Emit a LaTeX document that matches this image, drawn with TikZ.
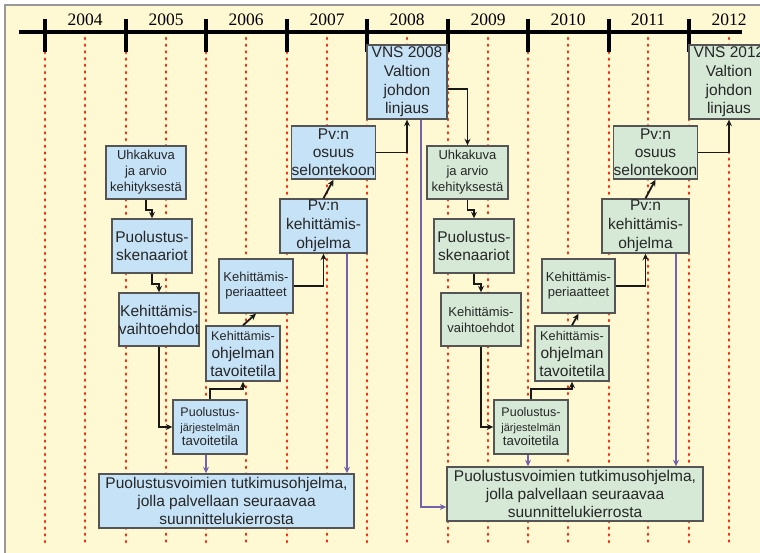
\documentclass[tikz,border=0pt]{standalone}
\usepackage{fontspec}
\setmainfont{Liberation Sans}
\newfontfamily\yearfont{Liberation Serif}
\usetikzlibrary{arrows.meta}

\definecolor{paper}{HTML}{FFF9D3}
\definecolor{boxBlue}{HTML}{C6E2F6}
\definecolor{boxGreen}{HTML}{D6E9D6}
\definecolor{boxLine}{HTML}{555555}
\definecolor{dotRed}{HTML}{F52A0C}
\definecolor{linkPurple}{HTML}{7362AC}

\newcommand{\bigtxt}{\fontsize{15.5}{18}\selectfont}
\newcommand{\smalltxt}{\fontsize{13}{16}\selectfont}

\tikzset{
	planBox/.style={rectangle, draw=boxLine, line width=1.4pt, inner sep=0pt, align=center, text=black!85},
	blueBox/.style={planBox, fill=boxBlue},
	greenBox/.style={planBox, fill=boxGreen},
	flowArrow/.style={->, line width=1.8pt, color=black!90},
	feedArrow/.style={->, line width=1.8pt, color=linkPurple},
	halfYear/.style={color=dotRed, line width=2.6pt, line cap=round, dash pattern=on 1pt off 5.7pt},
	yearTick/.style={line width=3.2pt},
	yearLabel/.style={font=\yearfont\fontsize{17.5}{20}\selectfont, anchor=base},
}

\begin{document}
\begin{tikzpicture}[x=1pt, y=-1pt, >={Stealth[length=6.5pt, width=6pt]}]
		\useasboundingbox (0,0) rectangle (760,553);
		\draw[draw=black!40, line width=1.5pt, fill=paper] (5,5) rectangle (790,590);

		% half year guides
		\draw[halfYear] (45,52) -- (45,545);
		\draw[halfYear] (85,38) -- (85,545);
		\draw[halfYear] (126,52) -- (126,545);
		\draw[halfYear] (166,38) -- (166,545);
		\draw[halfYear] (206,52) -- (206,545);
		\draw[halfYear] (246,38) -- (246,545);
		\draw[halfYear] (287,52) -- (287,545);
		\draw[halfYear] (327,38) -- (327,545);
		\draw[halfYear] (367,52) -- (367,545);
		\draw[halfYear] (407,38) -- (407,545);
		\draw[halfYear] (448,52) -- (448,545);
		\draw[halfYear] (488,38) -- (488,545);
		\draw[halfYear] (528,52) -- (528,545);
		\draw[halfYear] (568,38) -- (568,545);
		\draw[halfYear] (609,52) -- (609,545);
		\draw[halfYear] (648,38) -- (648,545);
		\draw[halfYear] (689,52) -- (689,545);
		\draw[halfYear] (729,38) -- (729,545);

		% time axis
		\draw[yearTick] (19,32) -- (742,32);
		\draw[yearTick] (45,19) -- (45,52);
		\draw[yearTick] (126,19) -- (126,52);
		\draw[yearTick] (206,19) -- (206,52);
		\draw[yearTick] (287,19) -- (287,52);
		\draw[yearTick] (367,19) -- (367,52);
		\draw[yearTick] (448,19) -- (448,52);
		\draw[yearTick] (528,19) -- (528,52);
		\draw[yearTick] (609,19) -- (609,52);
		\draw[yearTick] (689,19) -- (689,52);

		\node[yearLabel](y2004) at (85,26){2004};
		\node[yearLabel](y2005) at (166,26){2005};
		\node[yearLabel](y2006) at (246,26){2006};
		\node[yearLabel](y2007) at (327,26){2007};
		\node[yearLabel](y2008) at (407,26){2008};
		\node[yearLabel](y2009) at (488,26){2009};
		\node[yearLabel](y2010) at (568,26){2010};
		\node[yearLabel](y2011) at (648,26){2011};
		\node[yearLabel](y2012) at (729,26){2012};

		% first round
		\node[blueBox, minimum width=80pt, minimum height=53pt, font=\smalltxt](uhkaOne) at (146,172.5){Uhkakuva\\ja arvio\\kehityksestä};
		\node[blueBox, minimum width=80pt, minimum height=54pt, font=\bigtxt](skenOne) at (152,246){Puolustus-\\skenaariot};
		\node[blueBox, minimum width=80pt, minimum height=53pt, font=\bigtxt](vaihtoOne) at (159,319.5){Kehittämis-\\vaihtoehdot};
		\node[blueBox, minimum width=74pt, minimum height=54pt, font=\fontsize{13.3}{14.5}\selectfont](jarjOne) at (210,427){{\fontsize{12.5}{14.5}\selectfont Puolustus-}\\{\fontsize{11}{14.5}\selectfont järjestelmän}\\tavoitetila};
		\node[blueBox, minimum width=74pt, minimum height=55pt, font=\bigtxt](tavoiteOne) at (243,353.5){{\fontsize{12.7}{18}\selectfont Kehittämis-}\\ohjelman\\tavoitetila};
		\node[blueBox, minimum width=74pt, minimum height=54pt, font=\fontsize{13}{15}\selectfont](periOne) at (256,286){Kehittämis-\\periaatteet};
		\node[blueBox, minimum width=87pt, minimum height=54pt, font=\fontsize{15.5}{18.8}\selectfont](ohjelmaOne) at (323.5,226){Pv:n\\kehittämis-\\ohjelma};
		\node[blueBox, minimum width=81pt, minimum height=53pt, font=\bigtxt](osuusOne) at (333.5,152.5){Pv:n\\osuus\\selontekoon};
		\node[blueBox, minimum width=80pt, minimum height=74pt, font=\fontsize{15.5}{18.6}\selectfont](vnsOne) at (407,82){VNS 2008\\Valtion\\johdon\\linjaus};
		\node[blueBox, minimum width=255pt, minimum height=54pt, font=\bigtxt](tutkOne) at (226.5,501){Puolustusvoimien tutkimusohjelma,\\jolla palvellaan seuraavaa\\suunnittelukierrosta};

		% second round
		\node[greenBox, minimum width=81pt, minimum height=53pt, font=\smalltxt](uhkaTwo) at (467.5,172.5){Uhkakuva\\ja arvio\\kehityksestä};
		\node[greenBox, minimum width=80pt, minimum height=54pt, font=\bigtxt](skenTwo) at (474,246){Puolustus-\\skenaariot};
		\node[greenBox, minimum width=80pt, minimum height=53pt, font=\smalltxt](vaihtoTwo) at (481,319.5){Kehittämis-\\vaihtoehdot};
		\node[greenBox, minimum width=74pt, minimum height=54pt, font=\fontsize{13.3}{14.5}\selectfont](jarjTwo) at (531,427){{\fontsize{12.5}{14.5}\selectfont Puolustus-}\\{\fontsize{11}{14.5}\selectfont järjestelmän}\\tavoitetila};
		\node[greenBox, minimum width=74pt, minimum height=55pt, font=\bigtxt](tavoiteTwo) at (572,353.5){{\fontsize{12.7}{18}\selectfont Kehittämis-}\\ohjelman\\tavoitetila};
		\node[greenBox, minimum width=73pt, minimum height=54pt, font=\fontsize{13}{15}\selectfont](periTwo) at (578.5,286){Kehittämis-\\periaatteet};
		\node[greenBox, minimum width=87pt, minimum height=54pt, font=\fontsize{15.5}{18.8}\selectfont](ohjelmaTwo) at (645.5,226){Pv:n\\kehittämis-\\ohjelma};
		\node[greenBox, minimum width=81pt, minimum height=53pt, font=\bigtxt](osuusTwo) at (655.5,152.5){Pv:n\\osuus\\selontekoon};
		\node[greenBox, minimum width=80pt, minimum height=74pt, font=\fontsize{15.5}{18.6}\selectfont](vnsTwo) at (729,82){VNS 2012\\Valtion\\johdon\\linjaus};
		\node[greenBox, minimum width=256pt, minimum height=54pt, font=\bigtxt](tutkTwo) at (575,494){Puolustusvoimien tutkimusohjelma,\\jolla palvellaan seuraavaa\\suunnittelukierrosta};

		% draw planning chain, first round
		\draw[flowArrow] (uhkaOne.south) -- ++(0,10) -| (skenOne.north);
		\draw[flowArrow] (skenOne.south) -- ++(0,10) -| (vaihtoOne.north);
		\draw[flowArrow] (vaihtoOne.south) |- (jarjOne.west);
		\draw[flowArrow] (jarjOne.north) -- ++(0,-10) -| (tavoiteOne.south);
		\draw[flowArrow] (tavoiteOne.north) -- (periOne.south);
		\draw[flowArrow] (periOne.east) -| (ohjelmaOne.south);
		\draw[flowArrow] (ohjelmaOne.north) -- (osuusOne.south);
		\draw[flowArrow] (osuusOne.east) -| (vnsOne.south);
		\draw[flowArrow] ([yshift=-7pt]vnsOne.east) -| (uhkaTwo.north);

		% draw planning chain, second round
		\draw[flowArrow] (uhkaTwo.south) -- ++(0,10) -| (skenTwo.north);
		\draw[flowArrow] (skenTwo.south) -- ++(0,10) -| (vaihtoTwo.north);
		\draw[flowArrow] (vaihtoTwo.south) |- (jarjTwo.west);
		\draw[flowArrow] (jarjTwo.north) -- ++(0,-10) -| (tavoiteTwo.south);
		\draw[flowArrow] (tavoiteTwo.north) -- (periTwo.south);
		\draw[flowArrow] (periTwo.east) -| (ohjelmaTwo.south);
		\draw[flowArrow] (ohjelmaTwo.north) -- (osuusTwo.south);
		\draw[flowArrow] (osuusTwo.east) -| (vnsTwo.south);

		% draw research programme inputs
		\draw[feedArrow] ([xshift=-4pt]jarjOne.south) -- ([xshift=-4pt]jarjOne.south |- tutkOne.north);
		\draw[feedArrow] ([xshift=23.5pt]ohjelmaOne.south) -- ([xshift=23.5pt]ohjelmaOne.south |- tutkOne.north);
		\draw[feedArrow] ([xshift=14pt]vnsOne.south) |- ([yshift=-13pt]tutkTwo.west);
		\draw[feedArrow] ([xshift=-3pt]jarjTwo.south) -- ([xshift=-3pt]jarjTwo.south |- tutkTwo.north);
		\draw[feedArrow] ([xshift=30.5pt]ohjelmaTwo.south) -- ([xshift=30.5pt]ohjelmaTwo.south |- tutkTwo.north);
	\end{tikzpicture}
\end{document}
